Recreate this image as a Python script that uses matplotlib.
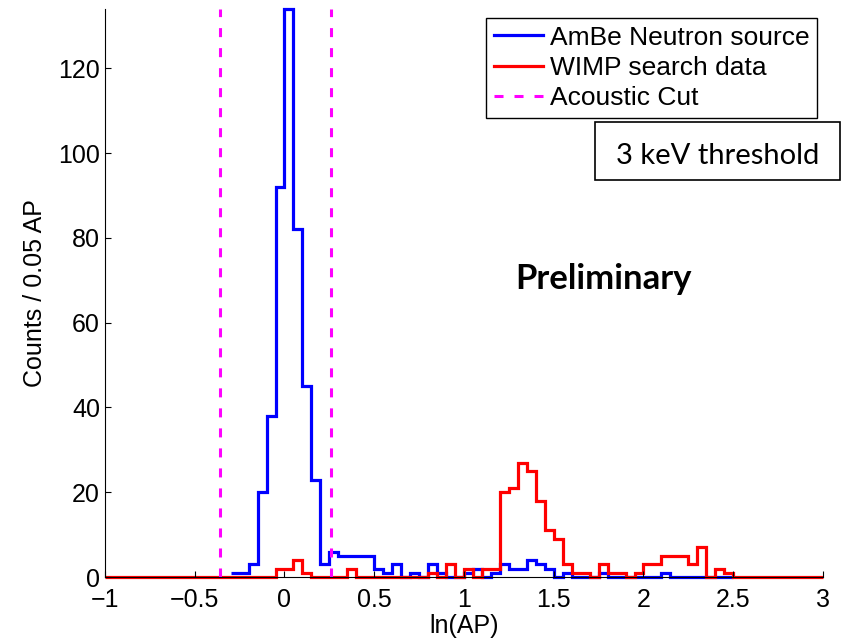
import numpy as np
import matplotlib
matplotlib.use("Agg")
import matplotlib.pyplot as plt
from matplotlib.patches import Rectangle

plt.rcParams["font.family"] = ["Liberation Sans", "DejaVu Sans"]

BIN = 0.05
# AmBe neutron source: counts per 0.05 bin, first bin starts at ln(AP) = -0.30
AMBE_START = -0.30
ambe_counts = [1, 1, 3, 20, 38, 92, 134, 82, 45, 23,
               3, 6, 5, 5, 5, 5, 2, 1, 3, 0,
               1, 0, 3, 1, 0, 0, 1, 2, 0, 1,
               3, 2, 2, 4, 3, 2, 0, 1, 0, 0,
               0, 1, 0, 0, 0, 0, 0, 0, 1, 0,
               0, 0, 0, 0, 0, 0]
# WIMP search data: counts per 0.05 bin, first bin starts at ln(AP) = -1.0
WIMP_START = -1.0
wimp_counts = [0, 0, 0, 0, 0, 0, 0, 0, 0, 0,
               0, 0, 0, 0, 0, 0, 0, 0, 0, 2,
               2, 4, 1, 0, 0, 0, 0, 2, 0, 0,
               0, 0, 0, 0, 0, 0, 1, 0, 3, 0,
               2, 0, 2, 2, 20, 21, 27, 25, 18, 11,
               9, 3, 1, 1, 0, 3, 1, 1, 0, 1,
               3, 3, 5, 5, 5, 3, 7, 0, 2, 1,
               0, 0, 0, 0, 0, 0, 0, 0, 0, 0]
# acoustic cut window
cut_lo, cut_hi = -0.36, 0.26

xticks = [-1, -0.5, 0, 0.5, 1, 1.5, 2, 2.5, 3]
xtick_labels = ["\u22121", "\u22120.5", "0", "0.5", "1", "1.5", "2", "2.5", "3"]
yticks = [0, 20, 40, 60, 80, 100, 120]

ambe_edges = AMBE_START + BIN * np.arange(len(ambe_counts) + 1)
wimp_edges = WIMP_START + BIN * np.arange(len(wimp_counts) + 1)

fig = plt.figure(figsize=(8.48, 6.4), dpi=100)
ax = fig.add_axes([0.1238, 0.0984, 0.8467, 0.8875])

ax.stairs(ambe_counts, ambe_edges, baseline=None, color="#0000ff", lw=2.3,
          label="AmBe Neutron source", clip_on=False)
ax.stairs(wimp_counts, wimp_edges, baseline=None, color="#ff0000", lw=2.3,
          label="WIMP search data", clip_on=False)
for i, xc in enumerate([cut_lo, cut_hi]):
    ax.axvline(xc, color="#ff00ff", lw=2.2, ls=(0, (2.95, 3.6)),
               label="Acoustic Cut" if i == 0 else None)

ax.set_xlim(-1, 3)
ax.set_ylim(0, 134)
ax.set_xticks(xticks)
ax.set_xticklabels(xtick_labels)
ax.set_yticks(yticks)
ax.tick_params(direction="in", length=4.5, width=0.8, labelsize=18)
ax.tick_params(axis="x", pad=8)
for s in ("top", "right"):
    ax.spines[s].set_visible(False)
for s in ("left", "bottom"):
    ax.spines[s].set_linewidth(0.8)
ax.set_xlabel("ln(AP)", fontsize=18, labelpad=1)
ax.set_ylabel("Counts / 0.05 AP", fontsize=18, labelpad=8)

leg = ax.legend(loc="upper right", bbox_to_anchor=(0.9916, 0.984), borderaxespad=0,
                fontsize=19, fancybox=False, edgecolor="black", framealpha=1,
                handlelength=1.86, handletextpad=0.27, labelspacing=0.24, borderpad=0.28)
leg.get_frame().set_linewidth(1.0)

# threshold annotation box
ax.add_patch(Rectangle((0.6825, 0.699), 0.3412, 0.1021, transform=ax.transAxes,
                       fill=False, edgecolor="black", lw=1.2, clip_on=False))
ax.text(0.853, 0.742, "3 keV threshold", transform=ax.transAxes, ha="center",
        va="center", fontsize=21, family=["Lato", "DejaVu Sans"])
ax.text(0.695, 0.524, "Preliminary", transform=ax.transAxes, ha="center",
        va="center", fontsize=25, fontweight="bold", family=["Lato", "DejaVu Sans"])

fig.savefig("out.png", dpi=100)
